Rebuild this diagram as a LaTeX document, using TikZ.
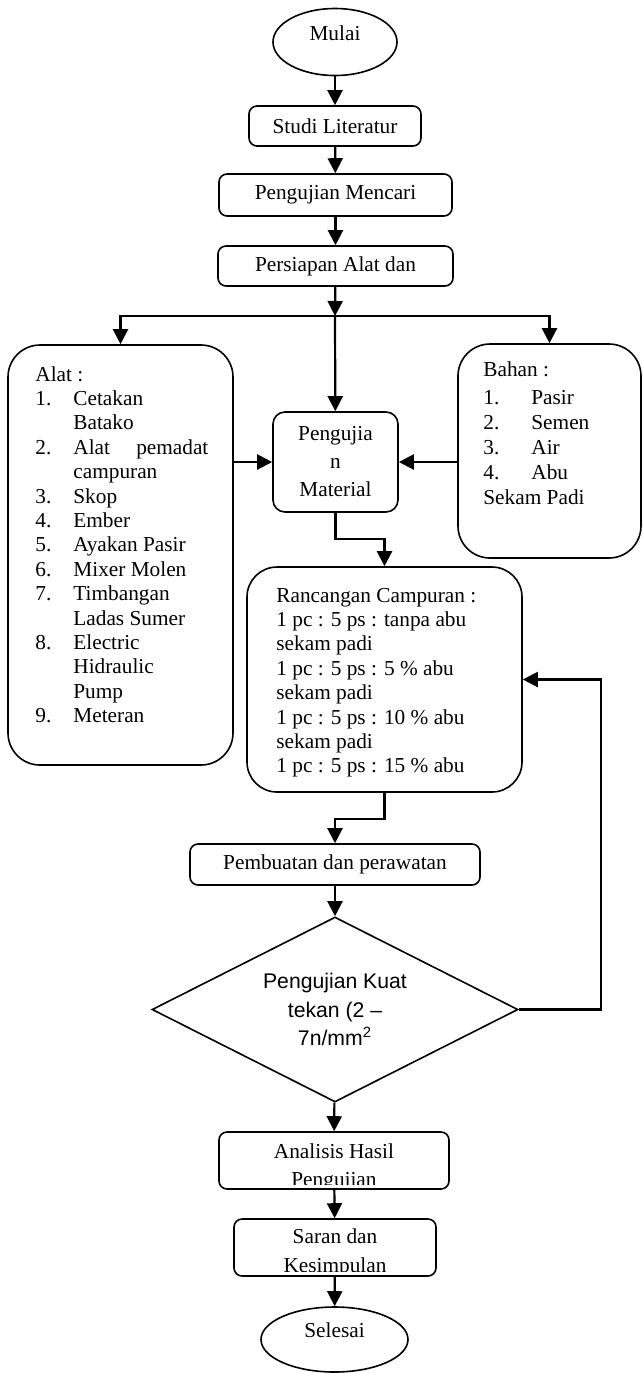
\documentclass[tikz,border=0pt]{standalone}
\usepackage{fontspec}
\setmainfont{Liberation Serif}
\newfontfamily\arialfont{Liberation Sans}
\usetikzlibrary{shapes.geometric,arrows.meta,positioning}

\tikzset{
  every node/.style={font=\fontsize{10.65}{12.2}\selectfont},
  proses/.style={draw, line width=0.8pt, rounded corners=4pt, inner sep=0pt},
  daftar/.style={draw, line width=0.8pt, rounded corners=16pt, inner sep=0pt},
  terminal/.style={draw, ellipse, line width=0.8pt, inner sep=0pt},
  keputusan/.style={draw, diamond, shape aspect=2, line width=0.8pt, inner sep=0pt,
    align=center, font=\arialfont\fontsize{10.6}{14.25}\selectfont},
  isi/.style={anchor=north west, align=left, inner sep=0pt},
  arr/.style={line width=1.1pt, -{Triangle[length=7.5pt,width=7.5pt]}}
}

\begin{document}
\begin{tikzpicture}[x=0.5pt,y=-0.5pt]
\useasboundingbox (0,0) rectangle (643,1373);

% alur atas
\node[terminal, minimum width=62pt, minimum height=33.5pt] (mulai) at (335,42) {\raisebox{1pt}[0pt][0pt]{Mulai}};
\node[proses, minimum width=86pt, minimum height=20pt] (studi) at (335,126) {Studi Literatur};
\node[proses, minimum width=116.5pt, minimum height=21pt] (mencari) at (335.5,195) {Pengujian Mencari};
\node[proses, minimum width=117.5pt, minimum height=20pt] (persiapan) at (335.5,266) {Persiapan Alat dan};
\coordinate (cabang) at (335,316);

% alat, bahan, material
\node[daftar, minimum width=112.5pt, minimum height=210pt] (alat) at (120.5,555) {};
\node[isi] (alattxt) at (35,366) {Alat :\\
  \makebox[19pt][l]{1.}Cetakan\\
  \hspace*{19pt}Batako\\
  \makebox[19pt][l]{2.}\makebox[67.5pt][s]{Alat\hfill pemadat}\\
  \hspace*{19pt}campuran\\
  \makebox[19pt][l]{3.}Skop\\
  \makebox[19pt][l]{4.}Ember\\
  \makebox[19pt][l]{5.}Ayakan Pasir\\
  \makebox[19pt][l]{6.}Mixer Molen\\
  \makebox[19pt][l]{7.}Timbangan\\
  \hspace*{19pt}Ladas Sumer\\
  \makebox[19pt][l]{8.}Electric\\
  \hspace*{19pt}Hidraulic\\
  \hspace*{19pt}Pump\\
  \makebox[19pt][l]{9.}Meteran};
\node[daftar, minimum width=91.5pt, minimum height=107pt] (bahan) at (549.5,451) {};
\node[isi, font=\fontsize{10.65}{12.5}\selectfont] (bahantxt) at (483,361.5) {Bahan :\\[1.5pt]
  \makebox[24pt][l]{1.}Pasir\\
  \makebox[24pt][l]{2.}Semen\\
  \makebox[24pt][l]{3.}Air\\
  \makebox[24pt][l]{4.}Abu\\
  Sekam Padi};
\node[proses, rounded corners=6pt, minimum width=62.5pt, minimum height=50pt, align=center,
  font=\fontsize{10.65}{14}\selectfont] (material) at (335.5,462) {Pengujia\\n\\Material};

% rancangan campuran
\node[daftar, rounded corners=15pt, minimum width=137.5pt, minimum height=112.5pt] (rancangan) at (384.5,679.5) {};
\node[isi] (rancangantxt) at (276,587.5) {Rancangan Campuran :\\
  1 pc : 5 ps : tanpa abu\\
  sekam padi\\
  1 pc : 5 ps : 5 \% abu\\
  sekam padi\\
  1 pc : 5 ps : 10 \% abu\\
  sekam padi\\
  1 pc : 5 ps : 15 \% abu};

% alur bawah
\node[proses, minimum width=145pt, minimum height=20.5pt] (pembuatan) at (335,864.5) {Pembuatan dan perawatan};
\node[keputusan, minimum width=183pt, minimum height=92.5pt] (uji) at (335,1009.5) {Pengujian Kuat\\tekan (2 –\\7n/mm\textsuperscript{2}};
\node[proses, minimum width=115pt, minimum height=28.5pt] (analisis) at (334,1160.5) {};
\begin{scope}
  \clip ([yshift=2.5pt]analisis.south west) rectangle (analisis.north east);
  \node[align=center, font=\fontsize{10.65}{14}\selectfont] (analisistxt) at (334,1167) {Analisis Hasil\\Pengujian};
\end{scope}
\node[proses, minimum width=101pt, minimum height=28.5pt] (saran) at (335,1247.5) {};
\begin{scope}
  \clip ([yshift=2.5pt]saran.south west) rectangle (saran.north east);
  \node[align=center, font=\fontsize{10.65}{14.5}\selectfont] (sarantxt) at (335,1253) {Saran dan\\Kesimpulan};
\end{scope}
\node[terminal, minimum width=73.5pt, minimum height=32.5pt] (selesai) at (334.5,1339.5) {\raisebox{1pt}[0pt][0pt]{Selesai}};

% panah
\draw[arr] (mulai) -- (studi);
\draw[arr] (studi) -- (mencari);
\draw[arr] (mencari) -- (persiapan);
\draw[arr] (persiapan) -- (cabang);
\draw[arr] (cabang) -- (material);
\draw[arr] (cabang) -| (alat.north);
\draw[arr] (cabang) -| (bahan.north);
\draw[arr] (material.west -| alat.east) -- (material.west);
\draw[arr] (material.east -| bahan.west) -- (material.east);
\draw[arr] (material.south) -- ++(0,26) -| (rancangan.north);
\draw[arr] (rancangan.south) -- ++(0,26) -| (pembuatan.north);
\draw[arr] (pembuatan) -- (uji);
\draw[arr] (uji.east) -- ++(82,0) |- (rancangan.east);
\draw[arr] (uji) -- (analisis);
\draw[arr] (analisis) -- (saran);
\draw[arr] (saran) -- (selesai);
\end{tikzpicture}
\end{document}
